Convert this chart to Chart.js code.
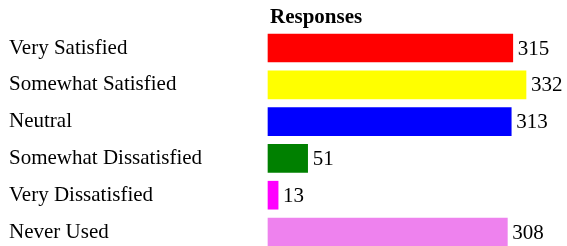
<!DOCTYPE html>
<html>
<head>
<meta charset="utf-8">
<script src="https://cdn.jsdelivr.net/npm/chart.js@4"></script>
<style>
  html, body { margin: 0; padding: 0; background: #fff; }
  #wrap { width: 567px; height: 246px; position: relative; }
</style>
</head>
<body>
<div id="wrap"><canvas id="chart"></canvas></div>
<script>
const categories = ['Very Satisfied', 'Somewhat Satisfied', 'Neutral', 'Somewhat Dissatisfied', 'Very Dissatisfied', 'Never Used'];
const responses = [315, 332, 313, 51, 13, 308];
const barColors = ['#ff0000', '#ffff00', '#0000ff', '#008000', '#ff00ff', '#ee82ee'];
const chartTitle = 'Responses';

const serif = '"Liberation Serif", "Times New Roman", serif';

// value at the end of each bar + the title over the bars
const extras = {
    id: 'extras',
    afterDatasetsDraw(chart) {
        const ctx = chart.ctx;
        const meta = chart.getDatasetMeta(0);
        ctx.save();
        ctx.fillStyle = '#000';
        ctx.font = '21px ' + serif;
        ctx.textAlign = 'left';
        ctx.textBaseline = 'middle';
        meta.data.forEach((bar, i) => {
            ctx.fillText(String(responses[i]), bar.x + 5, bar.y + 1);
        });
        ctx.font = 'bold 21px ' + serif;
        ctx.fillText(chartTitle, 270, 18);
        ctx.restore();
    }
};

new Chart(document.getElementById('chart'), {
    type: 'bar',
    data: {
        labels: categories,
        datasets: [{
            data: responses,
            backgroundColor: barColors,
            borderWidth: 0,
            barThickness: 28,
            clip: false
        }]
    },
    options: {
        indexAxis: 'y',
        responsive: true,
        maintainAspectRatio: false,
        animation: false,
        layout: { padding: { left: 9, top: 48, bottom: 14, right: 41 } },
        plugins: {
            legend: { display: false },
            tooltip: { enabled: false }
        },
        scales: {
            x: {
                min: 0,
                max: 332,
                display: false
            },
            y: {
                offset: false,
                grid: { display: false },
                border: { display: false },
                afterFit: (scale) => { scale.width = 259; },
                ticks: {
                    crossAlign: 'far',
                    color: '#000',
                    padding: 0,
                    font: { family: serif, size: 21 }
                }
            }
        }
    },
    plugins: [extras]
});
</script>
</body>
</html>
